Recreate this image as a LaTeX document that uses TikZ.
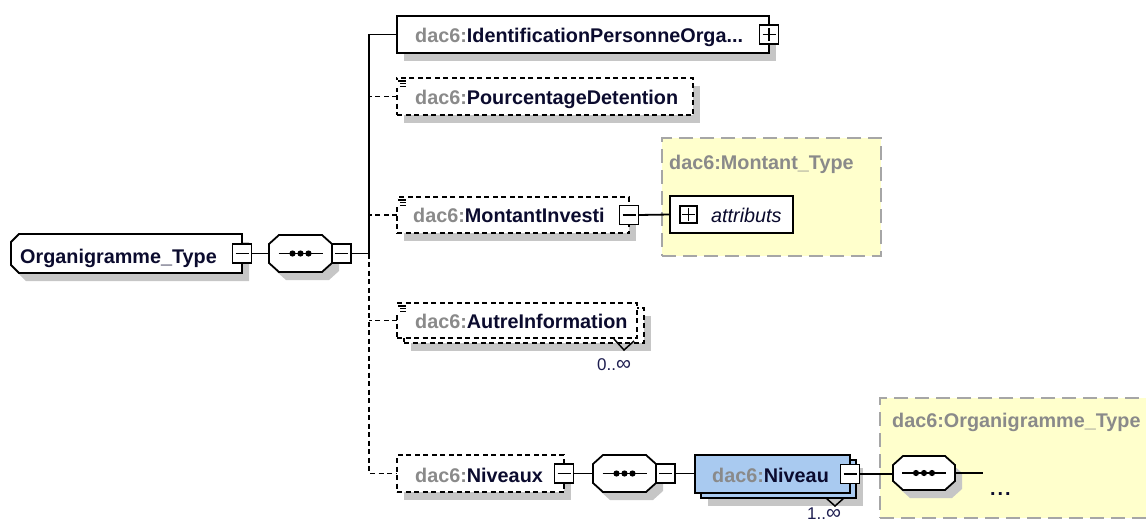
\documentclass[tikz,border=0pt]{standalone}
\usepackage{fontspec}
\setmainfont{Liberation Sans}
\usetikzlibrary{shadows}
\definecolor{nsgray}{HTML}{8A8A8A}
\definecolor{namec}{HTML}{0B0B2E}
\definecolor{shadowc}{HTML}{C6C6C6}
\definecolor{typefill}{HTML}{FFFFCC}
\definecolor{typeline}{HTML}{A6A6A6}
\definecolor{elemblue}{HTML}{A9CAF0}
\definecolor{occc}{HTML}{1E1E50}

% qualified name: grey prefix, dark local name
\newcommand\qn[2]{\textcolor{nsgray}{#1:}\textcolor{namec}{#2}}
% occurrence range with a wide infinity sign
\newcommand\occrange[1]{#1..{\fontsize{21}{20}\selectfont ∞}}
% outline of a sequence compositor (octagon)
\newcommand\octpath[1]{([xshift=10pt]#1.north west) -- ([xshift=-10pt]#1.north east) -- ([yshift=-9pt]#1.north east) -- ([yshift=9pt]#1.south east) -- ([xshift=-10pt]#1.south east) -- ([xshift=10pt]#1.south west) -- ([yshift=9pt]#1.south west) -- ([yshift=-9pt]#1.north west) -- cycle}
% outline of the root complex type (left corners cut)
\newcommand\rootpath[1]{([xshift=8pt]#1.north west) -- (#1.north east) -- (#1.south east) -- ([xshift=8pt]#1.south west) -- ([yshift=8pt]#1.south west) -- ([yshift=-8pt]#1.north west) -- cycle}
% sequence symbol with shadow and three dots
\newcommand\seqshape[1]{%
  \fill[shadowc,transform canvas={shift={(7pt,-8pt)}}] \octpath{#1};
  \draw[outline,fill=white] \octpath{#1};
  \draw[outline] ([xshift=-22pt]#1.center) -- ([xshift=22pt]#1.center);
  \foreach \dx in {-8,0,8}{\fill ([xshift=\dx pt]#1.center) circle[radius=3.1pt];}%
}
% simple-content marker in the upper left corner of an element box
\newcommand\icon[1]{%
  \fill[white] ([shift={(-2pt,-2pt)}]#1.north west) rectangle ([shift={(2pt,-10pt)}]#1.north west);
  \draw[line width=1.2pt] ([shift={(1pt,-3pt)}]#1.north west) -- ([shift={(9pt,-3pt)}]#1.north west)
    ([shift={(3pt,-5.8pt)}]#1.north west) -- ([shift={(9pt,-5.8pt)}]#1.north west)
    ([shift={(3pt,-8.6pt)}]#1.north west) -- ([shift={(9pt,-8.6pt)}]#1.north west);%
}

\begin{document}
\begin{tikzpicture}[x=1pt,y=-1pt,
  outline/.style={line width=1.8pt, draw=black},
  frame/.style={inner sep=0pt, outer sep=0pt, anchor=north west, draw=none},
  elem/.style={frame, outline, fill=white},
  opt/.style={dash pattern=on 5pt off 3.5pt},
  shad/.style={drop shadow={shadow xshift=7pt,shadow yshift=-8pt,fill=shadowc,opacity=1}},
  typebox/.style={frame, draw=typeline, fill=typefill, line width=2pt, dash pattern=on 14pt off 7pt},
  btn/.style={draw=black, fill=white, line width=1.6pt, minimum size=19pt, inner sep=0pt, outer sep=0pt},
  minusbtn/.style={btn, path picture={\draw[line width=1.6pt] ([xshift=-6.5pt]path picture bounding box.center) -- ([xshift=6.5pt]path picture bounding box.center);}},
  plusbtn/.style={btn, path picture={\draw[line width=1.6pt] ([xshift=-6.5pt]path picture bounding box.center) -- ([xshift=6.5pt]path picture bounding box.center) ([yshift=-6.5pt]path picture bounding box.center) -- ([yshift=6.5pt]path picture bounding box.center);}},
  conn/.style={line width=1.8pt},
  dconn/.style={conn, dash pattern=on 5pt off 3.5pt},
  lbl/.style={anchor=base west, inner sep=0pt, font=\fontsize{19.8}{22}\selectfont\bfseries},
  occ/.style={anchor=base west, inner sep=0pt, font=\fontsize{17}{20}\selectfont, text=occc},
]
\useasboundingbox (0,0) rectangle (1146,522);

% complex type frames
\node[typebox, minimum width=219pt, minimum height=118pt] (mtype) at (662,138) {};
\node[typebox, minimum width=290pt, minimum height=120pt] (otype) at (880,398) {};
\node[lbl, text=nsgray] (mtypet) at (669,169) {dac6:Montant\_Type};
\node[lbl, text=nsgray] (otypet) at (892,427) {dac6:Organigramme\_Type};

% root type
\node[frame, minimum width=231pt, minimum height=39pt] (root) at (11,234) {};
\fill[shadowc, transform canvas={shift={(7pt,-8pt)}}] \rootpath{root};
\draw[outline, fill=white] \rootpath{root};
\node[lbl, text=namec] (roott) at (20,263) {Organigramme\_Type};
\node[minusbtn] (rootbtn) at (root.east) {};

% first sequence
\node[frame, minimum width=63pt, minimum height=37pt] (seq1) at (269,235) {};
\seqshape{seq1}
\node[minusbtn, anchor=west] (seq1btn) at (seq1.east) {};
\coordinate (busmid) at (369,253.5);

% children
\node[elem, shad, minimum width=372pt, minimum height=37pt] (ident) at (397,16) {};
\node[lbl] (identt) at (415,42) {\qn{dac6}{IdentificationPersonneOrga...}};
\node[plusbtn] (identbtn) at (ident.east) {};

\node[elem, opt, shad, minimum width=296pt, minimum height=37pt] (pourc) at (397,78) {};
\icon{pourc}
\node[lbl] (pourct) at (415,104) {\qn{dac6}{PourcentageDetention}};

\node[elem, opt, shad, minimum width=232pt, minimum height=36pt] (mont) at (397,197) {};
\icon{mont}
\node[lbl] (montt) at (413,222) {\qn{dac6}{MontantInvesti}};
\node[minusbtn] (montbtn) at (mont.east) {};

\node[elem, minimum width=123pt, minimum height=37pt] (attr) at (670,196) {};
\node[plusbtn, minimum size=17pt] (attrbtn) at ([xshift=18.5pt]attr.west) {};
\node[anchor=base west, inner sep=0pt, font=\fontsize{19.8}{22}\selectfont\itshape, text=namec] (attrt) at (711,222) {attributs};

\node[elem, opt, shad, minimum width=240pt, minimum height=35pt] (autreback) at (404,308) {};
\node[elem, opt, minimum width=240pt, minimum height=35pt] (autre) at (397,303) {};
\icon{autre}
\node[lbl] (autret) at (415,328) {\qn{dac6}{AutreInformation}};
\draw[line width=1.5pt] (614,339) -- (624,350) -- (634,341);
\node[occ] (autreocc) at (597,370) {\occrange{0}};

\node[elem, opt, shad, minimum width=167pt, minimum height=37pt] (niveaux) at (397,455) {};
\node[lbl] (niveauxt) at (415,482) {\qn{dac6}{Niveaux}};
\node[minusbtn] (niveauxbtn) at (niveaux.east) {};

\node[frame, minimum width=63pt, minimum height=37pt] (seq2) at (593,455) {};
\seqshape{seq2}
\node[minusbtn, anchor=west] (seq2btn) at (seq2.east) {};

\node[elem, fill=elemblue, shad, minimum width=155pt, minimum height=38pt] (niveauback) at (701,460) {};
\node[elem, fill=elemblue, minimum width=155pt, minimum height=38pt] (niveau) at (695,455) {};
\node[lbl] (niveaut) at (712,482) {\qn{dac6}{Niveau}};
\node[minusbtn] (niveaubtn) at (niveau.east) {};
\draw[line width=1.5pt] (826,498) -- (835,506) -- (844,498);
\node[occ] (niveauocc) at (807,519.5) {\occrange{1}};

\node[frame, minimum width=62pt, minimum height=34pt] (seq3) at (893,456) {};
\seqshape{seq3}
\coordinate (tail) at (983,473);
\node[anchor=base west, inner sep=0pt, font=\fontsize{19.8}{22}\selectfont\bfseries, text=namec] (more) at (990,495) {.\kern2pt.\kern2pt.};

% connectors
\draw[conn] (rootbtn.east) -- (seq1.west);
\draw[conn] (seq1btn.east) -- (busmid);
\draw[conn] (ident.west) -| (busmid);
\draw[dconn] (busmid) |- (niveaux.west);
\draw[dconn] (pourc.west) -- (pourc.west -| busmid);
\draw[dconn] (mont.west) -- (mont.west -| busmid);
\draw[dconn] (autre.west) -- (autre.west -| busmid);
\draw[conn] (montbtn.east) -- (attr.west);
\draw[conn] (niveauxbtn.east) -- (seq2.west);
\draw[conn] (seq2btn.east) -- (seq2btn.east -| niveau.west);
\draw[conn] (niveaubtn.east) -- (niveaubtn.east -| seq3.west);
\draw[conn] (seq3.east) -- (tail);
\end{tikzpicture}
\end{document}
